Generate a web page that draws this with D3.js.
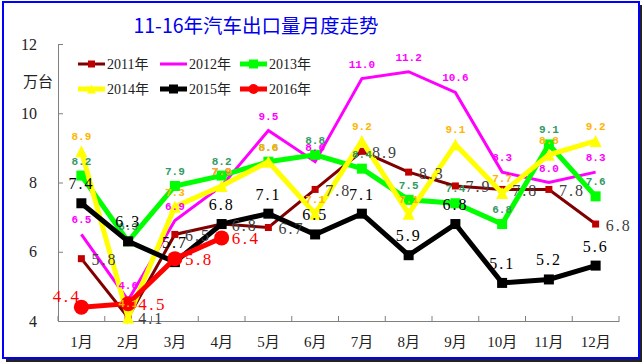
<!DOCTYPE html>
<html>
<head>
<meta charset="utf-8">
<script src="https://cdn.jsdelivr.net/npm/d3@7"></script>
<style>
  html, body { margin: 0; padding: 0; background: #fff; }
  svg { display: block; }
</style>
</head>
<body>
<div id="chart"></div>
<script>
// data
let months = ["1月","2月","3月","4月","5月","6月","7月","8月","9月","10月","11月","12月"];
let seriesNames = ["2011年","2012年","2013年","2014年","2015年","2016年"];
let y2011 = [5.8, 4.1, 6.5, 6.8, 6.7, 7.8, 8.9, 8.3, 7.9, 7.8, 7.8, 6.8];
let y2012 = [6.5, 4.6, 6.9, 7.9, 9.5, 8.6, 11.0, 11.2, 10.6, 8.3, 8.0, 8.3];
let y2013 = [8.2, 6.3, 7.9, 8.2, 8.6, 8.8, 8.4, 7.5, 7.4, 6.8, 9.1, 7.6];
let y2014 = [8.9, 4.1, 7.3, 7.9, 8.6, 7.1, 9.2, 7.1, 9.1, 7.7, 8.8, 9.2];
let y2015 = [7.4, 6.3, 5.7, 6.8, 7.1, 6.5, 7.1, 5.9, 6.8, 5.1, 5.2, 5.6];
let y2016 = [4.4, 4.5, 5.8, 6.4];
let yTicks = [4, 6, 8, 10, 12];

let W = 644, H = 364;
let svg = d3.select("#chart").append("svg").attr("width", W).attr("height", H);

// frame with shadow
svg.append("rect").attr("x", 6).attr("y", 5).attr("width", 636).attr("height", 357).attr("fill", "#222");
svg.append("rect").attr("x", 3).attr("y", 2).attr("width", 636).attr("height", 356)
    .attr("fill", "#fff").attr("stroke", "#0000ff").attr("stroke-width", 2);

// title
svg.append("text").attr("x", 256).attr("y", 24).attr("text-anchor", "middle")
    .attr("dominant-baseline", "central")
    .style("font-family", "'Noto Sans CJK SC'").style("font-size", "19.5px").style("fill", "#0000ee")
    .text("11-16年汽车出口量月度走势");

// unit
svg.append("text").attr("x", 23).attr("y", 80).attr("dominant-baseline", "central")
    .style("font-family", "'Noto Sans CJK SC'").style("font-size", "15px").style("fill", "#222")
    .text("万台");

let x = d3.scaleBand().domain(months).range([58, 619]).padding(0);
let cx = function(i){ return x(months[i]) + x.bandwidth() / 2; };
let y = d3.scaleLinear().domain([4, 12]).range([321, 44]);

// y axis
let yAxis = svg.append("g").attr("transform", "translate(58,0)")
    .call(d3.axisLeft(y).tickValues(yTicks).tickSize(-5).tickPadding(21).tickFormat(d3.format("d")));
yAxis.selectAll("path, line").attr("stroke", "#808080");
yAxis.selectAll("text").style("font-family", "'Liberation Serif'").style("font-size", "16px").style("fill", "#222");

// x axis
let xAxis = svg.append("g").attr("transform", "translate(0,321)")
    .call(d3.axisBottom(x).tickSize(0).tickPadding(15));
xAxis.select("path").attr("stroke", "#808080");
xAxis.selectAll("text").style("font-family", "'Liberation Serif','Noto Sans CJK SC'").style("font-size", "15px").style("fill", "#222");
let bounds = months.map(function(m){ return x(m); }).concat([x.range()[1]]);
xAxis.selectAll(".btick").data(bounds).enter().append("line")
    .attr("x1", function(d){ return d; }).attr("x2", function(d){ return d; })
    .attr("y1", 0).attr("y2", -5).attr("stroke", "#808080");

// series styles
let series = [
    {name: seriesNames[0], values: y2011, color: "#800000", width: 3, marker: "square", msize: 7, mfill: "#c00000",
     lcolor: "#404040", lfont: "'Liberation Serif'", lsize: 16, lweight: "normal", lspace: 2, lpos: "right"},
    {name: seriesNames[1], values: y2012, color: "#ff00ff", width: 3, marker: null,
     lcolor: "#ff00ff", lfont: "'Liberation Mono'", lsize: 11, lweight: "bold", lspace: 0, lpos: "above"},
    {name: seriesNames[2], values: y2013, color: "#00ff00", width: 5, marker: "square", msize: 10, mfill: "#00ff00",
     lcolor: "#339966", lfont: "'Liberation Mono'", lsize: 11, lweight: "bold", lspace: 0, lpos: "above"},
    {name: seriesNames[3], values: y2014, color: "#ffff00", width: 5, marker: "triangle", msize: 12, mfill: "#ffff00",
     lcolor: "#ffb400", lfont: "'Liberation Mono'", lsize: 11, lweight: "bold", lspace: 0, lpos: "above"},
    {name: seriesNames[4], values: y2015, color: "#000000", width: 5, marker: "square", msize: 10, mfill: "#000000",
     lcolor: "#000000", lfont: "'Liberation Serif'", lsize: 16, lweight: "normal", lspace: 2, lpos: "above"},
    {name: seriesNames[5], values: y2016, color: "#ff0000", width: 5, marker: "circle", msize: 15, mfill: "#ff0000",
     lcolor: "#ff0000", lfont: "'Liberation Serif'", lsize: 17, lweight: "normal", lspace: 2.5, lpos: "right"}
];

function drawMarker(g, s, px, py) {
    if (s.marker === "square") {
        g.append("rect").attr("x", px - s.msize / 2).attr("y", py - s.msize / 2)
            .attr("width", s.msize).attr("height", s.msize).attr("fill", s.mfill);
    } else if (s.marker === "triangle") {
        let h = s.msize;
        g.append("path").attr("d", "M" + px + "," + (py - h / 2) + "L" + (px + h / 2) + "," + (py + h / 2) + "L" + (px - h / 2) + "," + (py + h / 2) + "Z")
            .attr("fill", s.mfill);
    } else if (s.marker === "circle") {
        g.append("circle").attr("cx", px).attr("cy", py).attr("r", s.msize / 2).attr("fill", s.mfill);
    }
}

let line = d3.line()
    .x(function(d, i){ return cx(i); })
    .y(function(d){ return y(d); });

let plot = svg.append("g");
series.forEach(function(s){
    let g = plot.append("g");
    g.append("path").attr("d", line(s.values)).attr("fill", "none")
        .attr("stroke", s.color).attr("stroke-width", s.width).attr("stroke-linejoin", "miter");
    s.values.forEach(function(v, i){ drawMarker(g, s, cx(i), y(v)); });
});

// data labels on top
let fmt = d3.format(".1f");
series.forEach(function(s){
    s.values.forEach(function(v, i){
        let px = cx(i), py = y(v);
        let t = svg.append("text").text(fmt(v))
            .style("font-family", s.lfont).style("font-size", s.lsize + "px")
            .style("font-weight", s.lweight).style("letter-spacing", s.lspace + "px")
            .style("fill", s.lcolor);
        if (s.lpos === "right") {
            if (s.name === "2016年" && i === 0) {
                t.attr("x", px).attr("y", py - 11).attr("text-anchor", "end").attr("dominant-baseline", "central");
            } else {
                t.attr("x", px + 10).attr("y", py + 1).attr("dominant-baseline", "central");
            }
        } else {
            let off = s.lsize > 12 ? 14 : 11;
            t.attr("x", px).attr("y", py - off).attr("text-anchor", "middle");
        }
    });
});

// legend
let legX = [78, 160, 240], legY = [64, 89];
series.forEach(function(s, k){
    let lx = legX[k % 3], ly = legY[Math.floor(k / 3)];
    let g = svg.append("g");
    g.append("line").attr("x1", lx).attr("x2", lx + 27).attr("y1", ly).attr("y2", ly)
        .attr("stroke", s.color).attr("stroke-width", s.width);
    let ms = Object.assign({}, s, {msize: s.marker === "circle" ? 10 : Math.min(s.msize, 9)});
    drawMarker(g, ms, lx + 13.5, ly);
    g.append("text").attr("x", lx + 29).attr("y", ly).attr("dominant-baseline", "central")
        .style("font-family", "'Liberation Serif','Noto Sans CJK SC'").style("font-size", "14px").style("fill", "#222")
        .text(s.name);
});
</script>
</body>
</html>
